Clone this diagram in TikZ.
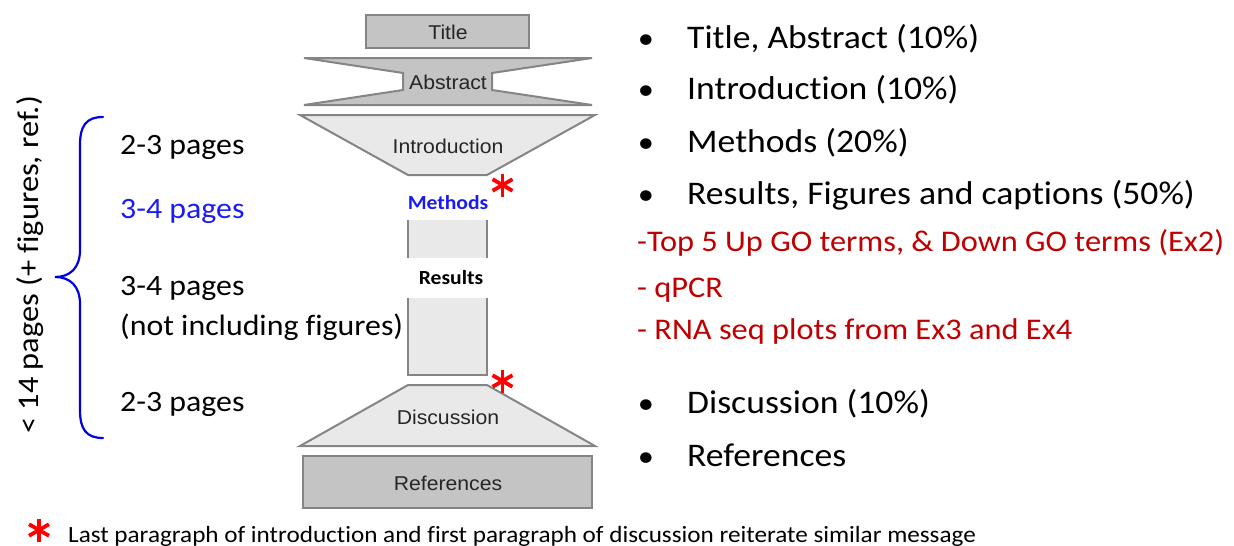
\documentclass[tikz,border=0pt]{standalone}
\usepackage{fontspec}
\setmainfont{Carlito}[Ligatures=NoCommon, FakeStretch=1.08]
\newfontfamily\diagfont{Liberation Sans}[FakeStretch=1.06]
\usetikzlibrary{positioning}
\definecolor{boxgray}{HTML}{C4C4C4}
\definecolor{palegray}{HTML}{E9E9E9}
\definecolor{edgegray}{HTML}{858585}
\definecolor{bracelue}{HTML}{0000E6}
\definecolor{methodblue}{HTML}{1A1AF5}
\definecolor{notered}{HTML}{C00000}
\definecolor{starred}{HTML}{FF0000}
\tikzset{
  block/.style={draw=edgegray, line width=2pt, fill=boxgray, line join=miter},
  lightblock/.style={block, fill=palegray},
  blocktext/.style={font=\diagfont\fontsize{20}{24}\selectfont, text=black!85, anchor=base},
  bigitem/.style={font=\fontsize{33}{40}\selectfont, anchor=base west, inner xsep=0pt},
  bulletmark/.style={font=\fontsize{30}{36}\selectfont, anchor=base},
  pagetext/.style={font=\fontsize{29.5}{35}\selectfont, anchor=base west, inner xsep=0pt},
  rednote/.style={pagetext, font=\fontsize{30}{36}\selectfont, text=notered},
  starline/.style={starred, line width=3.8pt}
}
% red asterisk drawn round a named coordinate
\newcommand\redstar[1]{%
  \foreach \a in {90,30,150} \draw[starline] (#1) ++(\a:11.5) -- ++(\a+180:23);}
\begin{document}
\begin{tikzpicture}[x=1pt, y=-1pt]
  \useasboundingbox (0,0) rectangle (1234,546);
  % funnel blocks
  \draw[block] (366,15) rectangle (529,48);
  \draw[block] (304,58) -- (592,58) -- (492,73) -- (492,90) -- (592,105)
    -- (304,105) -- (403,90) -- (403,73) -- cycle;
  \draw[lightblock] (300,115) -- (595,115) -- (487,175) -- (408,175) -- cycle;
  \fill[palegray] (408,220) rectangle (487,375);
  \draw[edgegray, line width=2pt] (408,220) -- (408,375) -- (487,375) -- (487,220);
  \draw[lightblock] (408,385) -- (487,385) -- (595,446) -- (300,446) -- cycle;
  \draw[block] (303,456) rectangle (592,508);
  % block labels
  \node[blocktext] (title) at (448,39) {Title};
  \node[blocktext] (abstract) at (448,89) {Abstract};
  \node[blocktext] (intro) at (448,153) {Introduction};
  \node[font=\bfseries\fontsize{20}{24}\selectfont, text=methodblue, anchor=base] (methods) at (448,209) {Methods};
  \node[font=\bfseries\fontsize{20}{24}\selectfont, fill=white, minimum width=100pt, minimum height=40pt] (results) at (451,278) {Results};
  \node[blocktext] (discussion) at (448,424) {Discussion};
  \node[blocktext] (references) at (448,490) {References};
  \coordinate (star1) at (502.5,185);
  \coordinate (star2) at (502.5,381);
  \redstar{star1}
  \redstar{star2}
  % page counts
  \node[pagetext] (p1) at (120,154) {2-3 pages};
  \node[pagetext, text=methodblue] (p2) at (120,218) {3-4 pages};
  \node[pagetext] (p3) at (120,295) {3-4 pages};
  \node[pagetext] (p3b) at (120,335) {(not including figures)};
  \node[pagetext] (p4) at (120,411) {2-3 pages};
  \coordinate (bracetop) at (103,117);
  \coordinate (bracetip) at (55,277);
  \coordinate (bracebot) at (103,438);
  \draw[bracelue, line width=2.2pt, line cap=round]
    (bracetop) .. controls (86,117) and (80,126) .. (80,145) -- (80,250)
    .. controls (80,268) and (70,277) .. (bracetip)
    .. controls (70,277) and (80,286) .. (80,304) -- (80,410)
    .. controls (80,429) and (86,438) .. (bracebot);
  \node[font=\fontsize{30}{36}\selectfont, rotate=90] (total) at (30,265) {< 14 pages (+ figures, ref.)};
  % right-hand list
  \foreach \y/\txt [count=\i] in {48/{Title, Abstract (10\%)}, 99/{Introduction (10\%)},
      152/{Methods (20\%)}, 204/{Results, Figures and captions (50\%)},
      413/{Discussion (10\%)}, 466/{References}} {
    \node[bulletmark] (dot\i) at (646,\y) {•};
    \node[bigitem] (item\i) at (687,\y) {\txt};
  }
  \node[rednote] (go) at (637,251) {-Top 5 Up GO terms, \& Down GO terms (Ex2)};
  \node[rednote] (qpcr) at (637,297) {- qPCR};
  \node[rednote] (rnaseq) at (637,339) {- RNA seq plots from Ex3 and Ex4};
  % footnote
  \coordinate (star3) at (39,530);
  \redstar{star3}
  \node[font=\fontsize{23.3}{27}\selectfont, anchor=base west, inner xsep=0pt] (footnote) at (68,542)
    {Last paragraph of introduction and first paragraph of discussion reiterate similar message};
\end{tikzpicture}
\end{document}
